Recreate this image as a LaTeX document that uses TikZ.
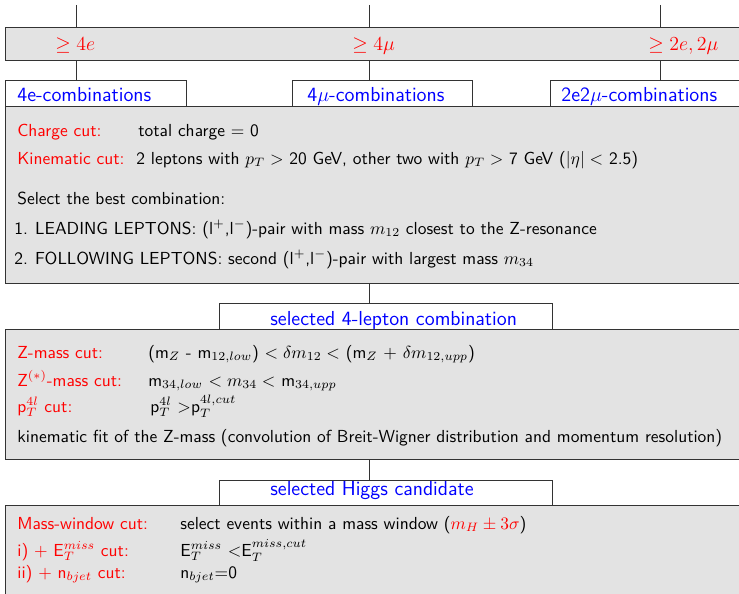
\documentclass[tikz,border=0pt]{standalone}
\usepackage{fontspec}
\begin{document}
\begin{tikzpicture}[x=1pt,y=1pt,
  txt/.style={anchor=base west, inner sep=0pt, font=\sffamily\fontsize{10}{12}\selectfont, scale=1.743, transform shape},
  cut/.style={txt, text=red},
  lbl/.style={anchor=base west, inner sep=0pt, text=blue, font=\sffamily\fontsize{12}{14}\selectfont, scale=1.69, transform shape},
  chn/.style={anchor=base west, inner sep=0pt, text=red, font=\fontsize{12}{14}\selectfont, scale=1.66, transform shape},
  graybox/.style={draw=black!80, line width=0.8pt, fill=black!11, anchor=north west, inner sep=0pt},
  whitebox/.style={draw=black!80, line width=0.8pt, fill=white, anchor=north west, inner sep=0pt},
  link/.style={draw=black!80, line width=0.8pt}]
\useasboundingbox (0,0) rectangle (739,-594);
\clip (0,0) rectangle (739,-594);

% channel bar and combination labels
\node[graybox, minimum width=760pt, minimum height=33pt] (chan) at (5,-27) {};
\node[whitebox, minimum width=181pt, minimum height=26pt] (b4e) at (5,-80) {};
\node[whitebox, minimum width=180pt, minimum height=26pt] (b4m) at (292,-80) {};
\node[whitebox, minimum width=200pt, minimum height=26pt] (b2e2m) at (550,-80) {};

% selection stages
\node[graybox, minimum width=760pt, minimum height=177pt] (comb) at (5,-106) {};
\node[whitebox, minimum width=333pt, minimum height=26pt] (sel4l) at (219,-303) {};
\node[graybox, minimum width=760pt, minimum height=130pt] (zcuts) at (5,-329) {};
\node[whitebox, minimum width=333pt, minimum height=25pt] (selH) at (219,-480) {};
\node[graybox, minimum width=760pt, minimum height=120pt] (hcuts) at (5,-505) {};

% connectors
\coordinate (ta) at (76,-5);
\coordinate (tb) at (369,-5);
\coordinate (tc) at (660,-5);
\draw[link] (ta) -- (ta |- chan.north);
\draw[link] (tb) -- (tb |- chan.north);
\draw[link] (tc) -- (tc |- chan.north);
\draw[link] (ta |- chan.south) -- (ta |- b4e.north);
\draw[link] (tb |- chan.south) -- (tb |- b4m.north);
\draw[link] (tc |- chan.south) -- (tc |- b2e2m.north);
\draw[link] (tb |- comb.south) -- (tb |- sel4l.north);
\draw[link] (tb |- zcuts.south) -- (tb |- selH.north);

% channel texts
\node[chn] (c4e) at (55,-51) {$\geq 4e$};
\node[chn] (c4m) at (352,-51) {$\geq 4\mu$};
\node[chn] (c2e2m) at (648,-51) {$\geq 2e, 2\mu$};

% label texts
\node[lbl] (l4e) at (17,-102) {4e-combinations};
\node[lbl] (l4m) at (307,-102) {4$\mu$-combinations};
\node[lbl] (l2e2m) at (561,-102) {2e2$\mu$-combinations};
\node[lbl] (lsel4l) at (270,-325) {selected 4-lepton combination};
\node[lbl] (lselH) at (270,-495) {selected Higgs candidate};

% combination cuts
\node[cut] (k1) at (17,-136) {Charge cut:};
\node[txt] (v1) at (138,-136) {total charge $=$ 0};
\node[cut] (k2) at (17,-164) {Kinematic cut:};
\node[txt] (v2) at (136,-164) {2 leptons with $p_T >$ 20 GeV, other two with $p_T >$ 7 GeV ($|\eta| <$ 2.5)};
\node[txt] (s1) at (17,-204) {Select the best combination:};
\node[txt] (s2) at (14,-234) {1.\hspace{0.42em}LEADING LEPTONS: (l$^+$,l$^-$)-pair with mass $m_{12}$ closest to the Z-resonance};
\node[txt] (s3) at (14,-264) {2.\hspace{0.42em}FOLLOWING LEPTONS: second (l$^+$,l$^-$)-pair with largest mass $m_{34}$};

% Z-mass cuts
\node[cut] (k3) at (17,-358) {Z-mass cut:};
\node[txt] (v3) at (148,-358) {(m$_Z$ - m$_{12,low}$) $< \delta m_{12} <$ (m$_Z$ $+$ $\delta m_{12,upp}$)};
\node[cut] (k4) at (17,-386) {Z$^{(*)}$-mass cut:};
\node[txt] (v4) at (148,-386) {m$_{34,low}$ $< m_{34} <$ m$_{34,upp}$};
\node[cut] (k5) at (17,-412) {p$_T^{4l}$ cut:};
\node[txt] (v5) at (150,-412) {p$_T^{4l}$ $>$p$_T^{4l,cut}$};
\node[txt] (s4) at (17,-442) {kinematic fit of the Z-mass (convolution of Breit-Wigner distribution and momentum resolution)};

% Higgs candidate cuts
\node[cut] (k6) at (17,-529) {Mass-window cut:};
\node[txt] (v6) at (180,-529) {select events within a mass window (\textcolor{red}{$m_H \pm 3\sigma$})};
\node[cut] (k7) at (17,-556) {i) $+$ E$_T^{miss}$ cut:};
\node[txt] (v7) at (180,-556) {E$_T^{miss}$ $<$E$_T^{miss,cut}$};
\node[cut] (k8) at (17,-578) {ii) $+$ n$_{bjet}$ cut:};
\node[txt] (v8) at (180,-578) {n$_{bjet}$=0};
\end{tikzpicture}
\end{document}
